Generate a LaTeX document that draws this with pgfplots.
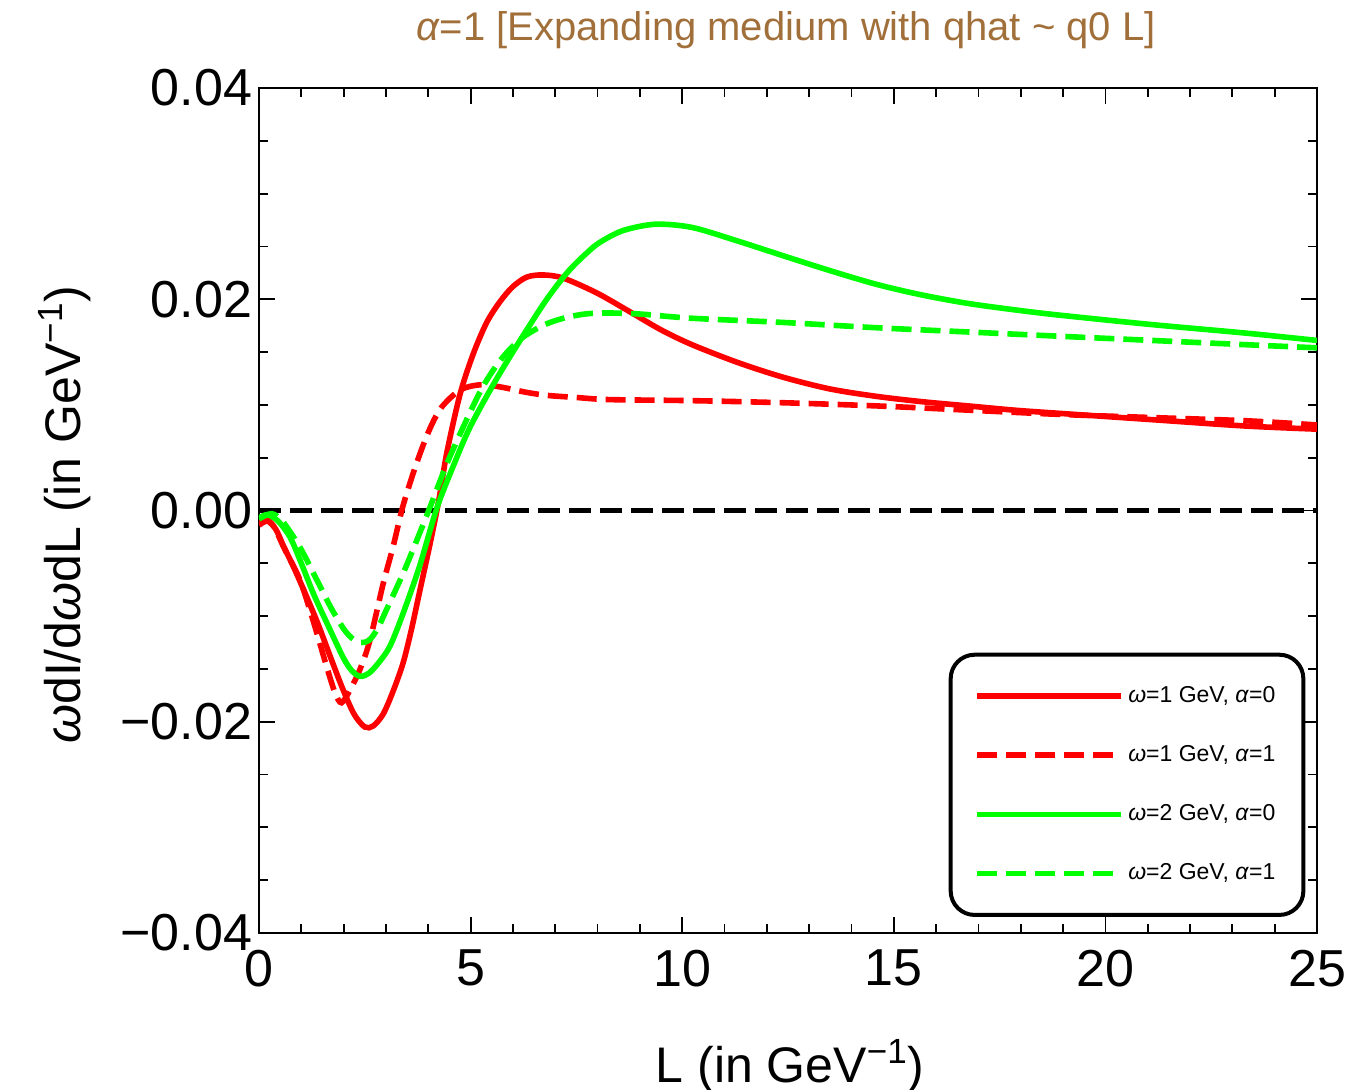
\documentclass[border=0pt]{standalone}
\usepackage{pgfplots}
\pgfplotsset{compat=1.18}
\usepackage{fontspec}
\setmainfont{Liberation Sans}
\definecolor{titlec}{RGB}{161,111,58}
\definecolor{myred}{RGB}{255,0,0}
\definecolor{mygreen}{RGB}{0,255,0}
\begin{document}
\begin{tikzpicture}
\useasboundingbox (-129.5pt,-78.5pt) rectangle (544pt,466.5pt);
\begin{axis}[
  at={(0,0)}, anchor=south west,
  scale only axis, width=529pt, height=422.5pt,
  xmin=0, xmax=25, ymin=-0.04, ymax=0.04,
  scaled y ticks=false, scaled x ticks=false,
  xtick={0,5,10,15,20,25}, xticklabels={0,5,10,15,20,25},
  ytick={-0.04,-0.02,0,0.02,0.04}, yticklabels={−0.04,−0.02,0.00,0.02,0.04},
  minor x tick num=4, minor y tick num=3,
  major tick length=8pt, minor tick length=4.5pt,
  tick style={black, line width=0.9pt},
  axis line style={line width=1pt},
  tick label style={font=\fontsize{26}{30}\selectfont},
  xticklabel style={yshift=-5pt},
  label style={font=\fontsize{25}{30}\selectfont},
  xlabel={L (in GeV\textsuperscript{−1})},
  ylabel={\textit{ω}dI/d\textit{ω}dL (in GeV\textsuperscript{−1})},
  xlabel style={at={(axis description cs:0.502,0)}, anchor=base, yshift=-74.5pt},
  ylabel style={at={(axis description cs:-0.169,0.495)}, anchor=base, rotate=0},
  title={\textit{α}=1 [Expanding medium with qhat \textasciitilde{} q0 L]},
  title style={at={(axis description cs:0.498,1)}, anchor=base, yshift=17.5pt, font=\fontsize{20}{24}\selectfont, text=titlec},
  legend style={at={(axis description cs:0.989,0.019)}, anchor=south east, draw=black, line width=2pt, rounded corners=12pt, font=\fontsize{11.5}{13}\selectfont, inner xsep=12pt, inner ysep=14pt, row sep=16pt, cells={anchor=west}},
  legend image code/.code={\draw[#1, rounded corners=0pt] (0pt,0pt) -- (72pt,0pt);},
]
\addplot[black, line width=2.3pt, dash pattern=on 11pt off 4.5pt, forget plot] coordinates {(0,0) (25,0)};

\addplot[myred, line width=2.8pt, smooth] coordinates {
(0,-0.0014) (0.2,-0.0010) (0.4,-0.0018) (0.57,-0.0033) (0.8,-0.0052) (1.0,-0.0070) (1.37,-0.0105) (1.7,-0.0140) (1.99,-0.0170) (2.25,-0.0193) (2.5,-0.0205) (2.7,-0.0204) (2.93,-0.0193) (3.15,-0.0173) (3.4,-0.0145) (3.6,-0.0113) (3.8,-0.0076) (4.05,-0.0030) (4.25,0.0010) (4.44,0.0055) (4.75,0.0110) (5.06,0.0148) (5.38,0.0178) (5.7,0.0198) (6.0,0.0212) (6.33,0.0221) (6.71,0.0223) (7.19,0.0220) (7.98,0.0206) (8.77,0.0188) (9.5,0.0171) (10.23,0.0157) (11.32,0.0140) (12.4,0.0126) (13.5,0.0115) (14.6,0.0108) (15.67,0.0103) (16.76,0.0099) (17.85,0.0095) (18.9,0.0092) (21.1,0.0086) (23.3,0.0080) (25,0.0077)
};
\addlegendentry{\textit{ω}=1 GeV, \textit{α}=0}

\addplot[myred, line width=2.8pt, smooth, dash pattern=on 10pt off 4.5pt] coordinates {
(0,-0.0012) (0.15,-0.0008) (0.35,-0.0015) (0.6,-0.0036) (0.97,-0.0066) (1.3,-0.0107) (1.6,-0.0148) (1.8,-0.0173) (1.95,-0.0182) (2.15,-0.0170) (2.39,-0.0150) (2.62,-0.0123) (2.93,-0.0070) (3.17,-0.0034) (3.4,0.0004) (3.7,0.0042) (4.0,0.0074) (4.3,0.0097) (4.75,0.0114) (5.22,0.0119) (5.7,0.0117) (6.3,0.0112) (6.8,0.0109) (7.5,0.0107) (8.27,0.0105) (10.23,0.0104) (12.4,0.0102) (14.6,0.0099) (16.76,0.0095) (18.9,0.0091) (21.1,0.0088) (23.3,0.0085) (25,0.0081)
};
\addlegendentry{\textit{ω}=1 GeV, \textit{α}=1}

\addplot[mygreen, line width=2.8pt, smooth] coordinates {
(0,-0.0007) (0.2,-0.0004) (0.45,-0.0010) (0.73,-0.0025) (0.97,-0.0047) (1.3,-0.0080) (1.68,-0.0113) (2.0,-0.0140) (2.2,-0.0152) (2.39,-0.0157) (2.6,-0.0154) (2.85,-0.0143) (3.1,-0.0128) (3.4,-0.0098) (3.8,-0.0052) (4.2,0.0002) (4.6,0.0043) (5.0,0.0080) (5.62,0.0125) (6.2,0.0163) (6.8,0.0200) (7.3,0.0226) (7.75,0.0244) (8.06,0.0254) (8.6,0.0265) (9.36,0.0271) (10.23,0.0268) (11.32,0.0255) (12.4,0.0241) (13.5,0.0227) (14.6,0.0214) (15.67,0.0204) (16.76,0.0196) (17.85,0.0190) (18.9,0.0185) (21.1,0.0176) (23.3,0.0168) (25,0.0161)
};
\addlegendentry{\textit{ω}=2 GeV, \textit{α}=0}

\addplot[mygreen, line width=2.8pt, smooth, dash pattern=on 10pt off 4.5pt] coordinates {
(0,-0.0008) (0.3,-0.0003) (0.57,-0.0011) (0.97,-0.0035) (1.37,-0.0066) (1.7,-0.0092) (2.0,-0.0112) (2.2,-0.0121) (2.4,-0.0125) (2.6,-0.0123) (2.8,-0.0112) (3.0,-0.0095) (3.4,-0.0060) (3.7,-0.0031) (4.04,0.0003) (4.5,0.0050) (5.22,0.0112) (5.7,0.0142) (6.17,0.0162) (6.7,0.0175) (7.19,0.0182) (7.7,0.0186) (8.2,0.0187) (9,0.0186) (10.23,0.0182) (12.4,0.0178) (14.6,0.0173) (16.76,0.0169) (18.9,0.0165) (21.1,0.0161) (23.3,0.0157) (25,0.0154)
};
\addlegendentry{\textit{ω}=2 GeV, \textit{α}=1}
\end{axis}
\end{tikzpicture}
\end{document}
